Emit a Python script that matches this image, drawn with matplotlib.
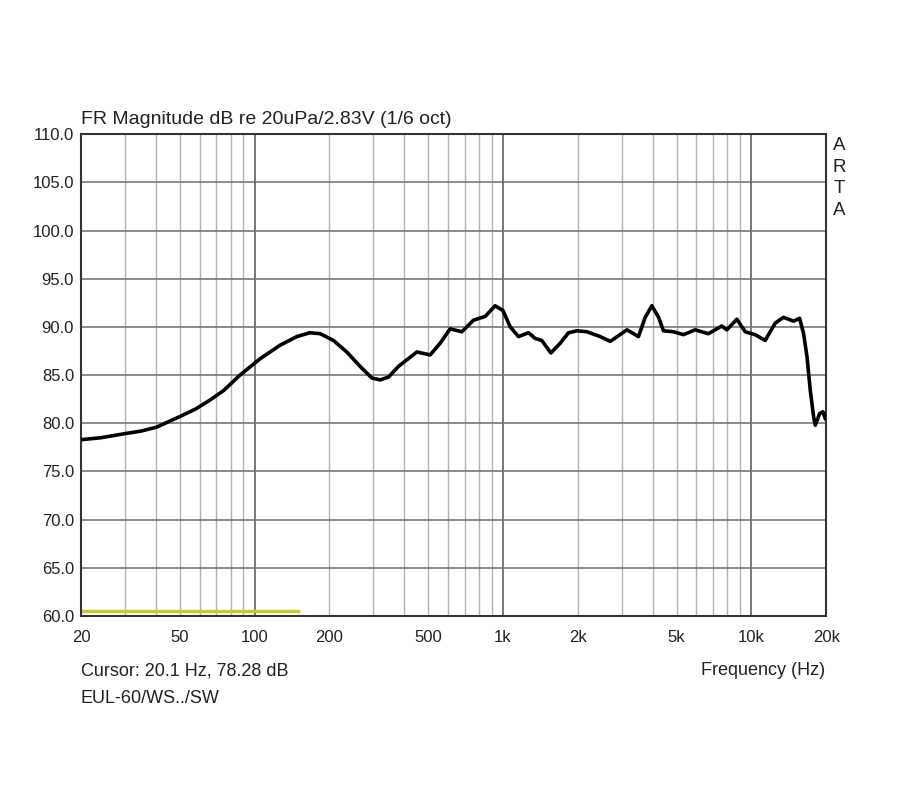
import matplotlib
matplotlib.use("Agg")
import matplotlib.pyplot as plt
import numpy as np

plt.rcParams['font.family'] = ['Liberation Sans', 'DejaVu Sans']

# frequency response (Hz, dB)
freq = [20, 24, 29.6, 35, 40.3, 50, 58, 66, 75, 87.3, 105.2, 126.5, 147.9, 167, 183.5,
        207.6, 235, 266, 296.5, 320, 346, 379, 450, 509, 558, 612, 683, 760, 848, 929,
        1000, 1069, 1154, 1267, 1348, 1432, 1558, 1698, 1835, 1985, 2177, 2461, 2703,
        3154, 3510, 3736, 3972, 4228, 4425, 4860, 5330, 5935, 6712, 7600, 7960, 8740,
        9440, 10350, 11360, 12470, 13460, 14780, 15630, 16220, 16740, 17260, 17790,
        18080, 18810, 19400, 19820]
spl = [78.3, 78.5, 78.9, 79.2, 79.6, 80.7, 81.5, 82.4, 83.4, 85.0, 86.7, 88.1, 89.0,
       89.4, 89.3, 88.6, 87.4, 85.9, 84.7, 84.5, 84.8, 85.9, 87.4, 87.1, 88.3, 89.8,
       89.5, 90.7, 91.1, 92.2, 91.7, 90.0, 89.0, 89.4, 88.8, 88.6, 87.3, 88.3, 89.4,
       89.6, 89.5, 89.0, 88.5, 89.7, 89.0, 91.0, 92.2, 91.0, 89.6, 89.5, 89.2, 89.7,
       89.3, 90.1, 89.7, 90.8, 89.5, 89.2, 88.6, 90.4, 91.0, 90.6, 90.9, 89.3, 86.9,
       83.4, 80.7, 79.8, 81.0, 81.2, 80.5]

# yellow marker line at the bottom
ref_freq = [20, 150]
ref_spl = [60.5, 60.5]

xticks = [20, 50, 100, 200, 500, 1000, 2000, 5000, 10000, 20000]
xlabels = ["20", "50", "100", "200", "500", "1k", "2k", "5k", "10k", "20k"]
yticks = np.arange(60, 110.1, 5)

fig = plt.figure(figsize=(9, 7.99), dpi=100)
ax = fig.add_axes([0.09, 0.229, 0.828, 0.603])

ax.set_xscale('log')
ax.set_xlim(20, 20000)
ax.set_ylim(60, 110)

# grid lines
minor = [f * d for d in [10, 100, 1000, 10000] for f in range(2, 10) if 20 < f * d < 20000]
for m in minor:
    ax.axvline(m, color='#b4b4b4', lw=1, zorder=1)
for d in [100, 1000, 10000]:
    ax.axvline(d, color='#6e6e6e', lw=1.3, zorder=1)
for y in yticks[1:-1]:
    ax.axhline(y, color='#6e6e6e', lw=1.1, zorder=1)

ax.plot(freq, spl, color='black', lw=2.6, zorder=3, solid_joinstyle='round')
ax.plot(ref_freq, ref_spl, color='#c8c832', lw=2.5, zorder=2)

ax.set_xticks(xticks)
ax.set_xticklabels(xlabels)
ax.xaxis.set_minor_locator(matplotlib.ticker.NullLocator())
ax.set_yticks(yticks)
ax.set_yticklabels(["%.1f" % v for v in yticks])
ax.tick_params(length=0, labelsize=12, colors='#222222', pad=5)
ax.tick_params(axis='x', pad=10)
for s in ax.spines.values():
    s.set_color('#333333')
    s.set_linewidth(1.5)

fig.text(0.09, 0.845, "FR Magnitude dB re 20uPa/2.83V (1/6 oct)", fontsize=14, color='#222222')
fig.text(0.917, 0.155, "Frequency (Hz)", fontsize=13, color='#222222', ha='right')
fig.text(0.09, 0.155, "Cursor: 20.1 Hz, 78.28 dB", fontsize=13, color='#222222')
fig.text(0.09, 0.12, "EUL-60/WS../SW", fontsize=13, color='#222222')
for i, ch in enumerate("ARTA"):
    fig.text(0.933, 0.812 - i * 0.027, ch, fontsize=13.5, color='#222222', ha='center')

fig.savefig("out.png", dpi=100)
